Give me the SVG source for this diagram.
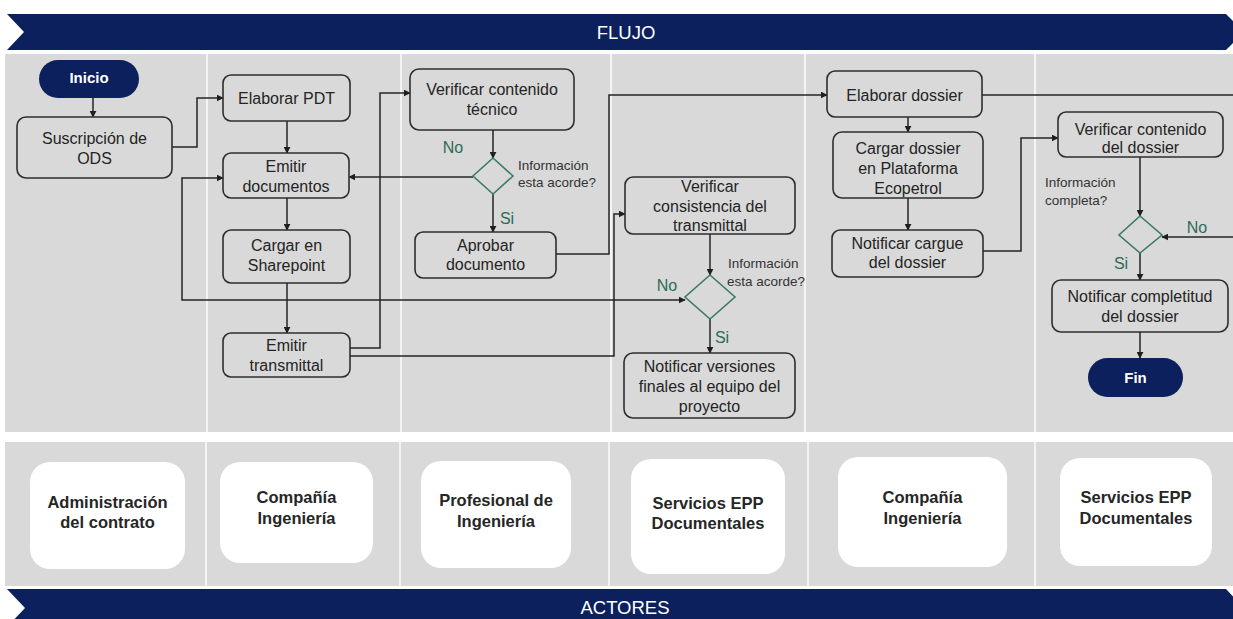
<svg xmlns="http://www.w3.org/2000/svg" width="1233" height="619" viewBox="0 0 1233 619">
  <defs>
    <marker id="arrow" viewBox="0 0 10 10" refX="9" refY="5" markerWidth="7" markerHeight="7" markerUnits="userSpaceOnUse" orient="auto-start-reverse">
      <path d="M0,0 L10,5 L0,10 z" fill="#1f1f1f"/>
    </marker>
  </defs>
  <style>
    .band { fill: #0b205c; }
    .bandtxt { font-family: "Liberation Sans", Arial, sans-serif; font-size: 18.5px; fill: #ffffff; text-anchor: middle; }
    .panel { fill: #d9d9d9; }
    .sep { stroke: #f4f4f4; stroke-width: 2; }
    .box { fill: #d9d9d9; stroke: #2e2e2e; stroke-width: 1.6; }
    .term { fill: #0b205c; }
    .t { font-family: "Liberation Sans", Arial, sans-serif; font-size: 16px; fill: #242424; text-anchor: middle; }
    .tt { font-family: "Liberation Sans", Arial, sans-serif; font-size: 15px; font-weight: bold; fill: #ffffff; text-anchor: middle; }
    .q { font-family: "Liberation Sans", Arial, sans-serif; font-size: 13.5px; fill: #333333; }
    .lbl { font-family: "Liberation Sans", Arial, sans-serif; font-size: 16px; fill: #2d6a57; text-anchor: middle; }
    .dia { fill: none; stroke: #3b7a66; stroke-width: 1.6; }
    .conn { fill: none; stroke: #242424; stroke-width: 1.5; }
    .actor { fill: #ffffff; }
    .at { font-family: "Liberation Sans", Arial, sans-serif; font-size: 16.5px; font-weight: bold; fill: #262626; text-anchor: middle; }
  </style>

  <rect width="1233" height="619" fill="#ffffff"/>

  <!-- Header band: flow -->
  <g id="header-flujo">
    <polygon class="band" points="7,14 1226,14 1244,32 1226,50 7,50 24,32"/>
    <text class="bandtxt" x="626" y="38.5">FLUJO</text>
  </g>

  <!-- Flow panel with lane separators -->
  <g id="flow-panel">
    <rect class="panel" x="5" y="54" width="1228" height="378"/>
    <line class="sep" x1="207" y1="54" x2="207" y2="432"/>
    <line class="sep" x1="401" y1="54" x2="401" y2="432"/>
    <line class="sep" x1="611" y1="54" x2="611" y2="432"/>
    <line class="sep" x1="805" y1="54" x2="805" y2="432"/>
    <line class="sep" x1="1035" y1="54" x2="1035" y2="432"/>
  </g>

  <!-- Connectors -->
  <g id="connectors">
    <path class="conn" d="M93,98 V117" marker-end="url(#arrow)"/>
    <path class="conn" d="M172,147 H197 V98 H223" marker-end="url(#arrow)"/>
    <path class="conn" d="M287,121 V153" marker-end="url(#arrow)"/>
    <path class="conn" d="M287,198 V230" marker-end="url(#arrow)"/>
    <path class="conn" d="M287,283 V333" marker-end="url(#arrow)"/>
    <path class="conn" d="M350,348 H380 V93 H410" marker-end="url(#arrow)"/>
    <path class="conn" d="M350,356 H614 V214 H625" marker-end="url(#arrow)"/>
    <path class="conn" d="M493,130 V158" marker-end="url(#arrow)"/>
    <path class="conn" d="M473,177 H349" marker-end="url(#arrow)"/>
    <path class="conn" d="M493,194 V232" marker-end="url(#arrow)"/>
    <path class="conn" d="M556,254 H609 V95 H827" marker-end="url(#arrow)"/>
    <path class="conn" d="M710,234 V275" marker-end="url(#arrow)"/>
    <path class="conn" d="M685,300 H182 V178 H223" marker-start="url(#arrow)" marker-end="url(#arrow)"/>
    <path class="conn" d="M710,319 V353" marker-end="url(#arrow)"/>
    <path class="conn" d="M982,95 H1233"/>
    <path class="conn" d="M908,117 V132" marker-end="url(#arrow)"/>
    <path class="conn" d="M908,198 V230" marker-end="url(#arrow)"/>
    <path class="conn" d="M983,251 H1021 V138 H1058" marker-end="url(#arrow)"/>
    <path class="conn" d="M1140,157 V216" marker-end="url(#arrow)"/>
    <path class="conn" d="M1233,237 H1162" marker-end="url(#arrow)"/>
    <path class="conn" d="M1140,253 V280" marker-end="url(#arrow)"/>
    <path class="conn" d="M1140,332 V358" marker-end="url(#arrow)"/>
  </g>

  <!-- Flow nodes -->
  <g id="inicio">
    <rect class="term" x="39" y="60" width="100" height="38" rx="19"/>
    <text class="tt" x="89" y="82.5">Inicio</text>
  </g>
  <g id="suscripcion-ods">
    <rect class="box" x="17" y="117" width="155" height="61" rx="9"/>
    <text class="t" x="94.5" y="144">Suscripción de</text>
    <text class="t" x="94.5" y="164">ODS</text>
  </g>
  <g id="elaborar-pdt">
    <rect class="box" x="223" y="75" width="127" height="46" rx="8"/>
    <text class="t" x="286.5" y="104">Elaborar PDT</text>
  </g>
  <g id="emitir-documentos">
    <rect class="box" x="223" y="153" width="126" height="45" rx="8"/>
    <text class="t" x="286" y="172">Emitir</text>
    <text class="t" x="286" y="192">documentos</text>
  </g>
  <g id="cargar-sharepoint">
    <rect class="box" x="223" y="230" width="127" height="53" rx="8"/>
    <text class="t" x="286.5" y="251">Cargar en</text>
    <text class="t" x="286.5" y="271">Sharepoint</text>
  </g>
  <g id="emitir-transmittal">
    <rect class="box" x="223" y="333" width="127" height="44" rx="8"/>
    <text class="t" x="286.5" y="351">Emitir</text>
    <text class="t" x="286.5" y="371">transmittal</text>
  </g>
  <g id="verificar-contenido-tecnico">
    <rect class="box" x="410" y="69" width="164" height="61" rx="9"/>
    <text class="t" x="492" y="95">Verificar contenido</text>
    <text class="t" x="492" y="115">técnico</text>
  </g>
  <g id="decision-tecnico">
    <polygon class="dia" points="493,158 513,176 493,194 473,176"/>
    <text class="q" x="518" y="170">Información</text>
    <text class="q" x="518" y="187">esta acorde?</text>
    <text class="lbl" x="453" y="153">No</text>
    <text class="lbl" x="507" y="224">Si</text>
  </g>
  <g id="aprobar-documento">
    <rect class="box" x="415" y="232" width="141" height="46" rx="8"/>
    <text class="t" x="485.5" y="251">Aprobar</text>
    <text class="t" x="485.5" y="270">documento</text>
  </g>
  <g id="verificar-consistencia">
    <rect class="box" x="625" y="177" width="170" height="57" rx="8"/>
    <text class="t" x="710" y="192">Verificar</text>
    <text class="t" x="710" y="211.5">consistencia del</text>
    <text class="t" x="710" y="231">transmittal</text>
  </g>
  <g id="decision-transmittal">
    <polygon class="dia" points="710,275 735,297 710,319 685,297"/>
    <text class="q" x="728" y="268">Información</text>
    <text class="q" x="727" y="286">esta acorde?</text>
    <text class="lbl" x="667" y="291">No</text>
    <text class="lbl" x="722" y="343">Si</text>
  </g>
  <g id="notificar-versiones">
    <rect class="box" x="624" y="353" width="171" height="65" rx="9"/>
    <text class="t" x="709.5" y="372">Notificar versiones</text>
    <text class="t" x="709.5" y="392">finales al equipo del</text>
    <text class="t" x="709.5" y="412">proyecto</text>
  </g>
  <g id="elaborar-dossier">
    <rect class="box" x="827" y="71" width="155" height="46" rx="8"/>
    <text class="t" x="904.5" y="100.5">Elaborar dossier</text>
  </g>
  <g id="cargar-dossier">
    <rect class="box" x="833" y="132" width="150" height="66" rx="9"/>
    <text class="t" x="908" y="154">Cargar dossier</text>
    <text class="t" x="908" y="174">en Plataforma</text>
    <text class="t" x="908" y="194">Ecopetrol</text>
  </g>
  <g id="notificar-cargue">
    <rect class="box" x="832" y="230" width="151" height="47" rx="8"/>
    <text class="t" x="907.5" y="249">Notificar cargue</text>
    <text class="t" x="907.5" y="268">del dossier</text>
  </g>
  <g id="verificar-dossier">
    <rect class="box" x="1058" y="112" width="165" height="45" rx="8"/>
    <text class="t" x="1140.5" y="135">Verificar contenido</text>
    <text class="t" x="1140.5" y="153">del dossier</text>
  </g>
  <g id="decision-dossier">
    <polygon class="dia" points="1140,216 1162,235 1140,253 1119,235"/>
    <text class="q" x="1045" y="187">Información</text>
    <text class="q" x="1045" y="205">completa?</text>
    <text class="lbl" x="1197" y="233">No</text>
    <text class="lbl" x="1121" y="269">Si</text>
  </g>
  <g id="notificar-completitud">
    <rect class="box" x="1052" y="280" width="176" height="52" rx="9"/>
    <text class="t" x="1140" y="301.5">Notificar completitud</text>
    <text class="t" x="1140" y="321.5">del dossier</text>
  </g>
  <g id="fin">
    <rect class="term" x="1088" y="358" width="95" height="39" rx="19.5"/>
    <text class="tt" x="1135.5" y="383">Fin</text>
  </g>

  <!-- Actors panel -->
  <g id="actors-panel">
    <rect class="panel" x="5" y="442" width="1228" height="144"/>
    <line class="sep" x1="206" y1="442" x2="206" y2="586"/>
    <line class="sep" x1="400" y1="442" x2="400" y2="586"/>
    <line class="sep" x1="609" y1="442" x2="609" y2="586"/>
    <line class="sep" x1="808" y1="442" x2="808" y2="586"/>
    <line class="sep" x1="1035" y1="442" x2="1035" y2="586"/>
  </g>
  <g id="actor-administracion">
    <rect class="actor" x="30" y="462" width="155" height="107" rx="20"/>
    <text class="at" x="107.5" y="508">Administración</text>
    <text class="at" x="107.5" y="528">del contrato</text>
  </g>
  <g id="actor-compania-1">
    <rect class="actor" x="220" y="462" width="153" height="101" rx="20"/>
    <text class="at" x="296.5" y="503">Compañía</text>
    <text class="at" x="296.5" y="524">Ingeniería</text>
  </g>
  <g id="actor-profesional">
    <rect class="actor" x="421" y="461" width="150" height="107" rx="20"/>
    <text class="at" x="496" y="506">Profesional de</text>
    <text class="at" x="496" y="527">Ingeniería</text>
  </g>
  <g id="actor-servicios-1">
    <rect class="actor" x="631" y="459" width="154" height="115" rx="20"/>
    <text class="at" x="708" y="509">Servicios EPP</text>
    <text class="at" x="708" y="529">Documentales</text>
  </g>
  <g id="actor-compania-2">
    <rect class="actor" x="838" y="457" width="169" height="110" rx="20"/>
    <text class="at" x="922.5" y="503">Compañía</text>
    <text class="at" x="922.5" y="524">Ingeniería</text>
  </g>
  <g id="actor-servicios-2">
    <rect class="actor" x="1060" y="458" width="152" height="108" rx="20"/>
    <text class="at" x="1136" y="503">Servicios EPP</text>
    <text class="at" x="1136" y="524">Documentales</text>
  </g>

  <!-- Footer band: actors -->
  <g id="header-actores">
    <polygon class="band" points="7,589 1226,589 1244,608 1226,627 7,627 25,608"/>
    <text class="bandtxt" x="625" y="614">ACTORES</text>
  </g>
</svg>
